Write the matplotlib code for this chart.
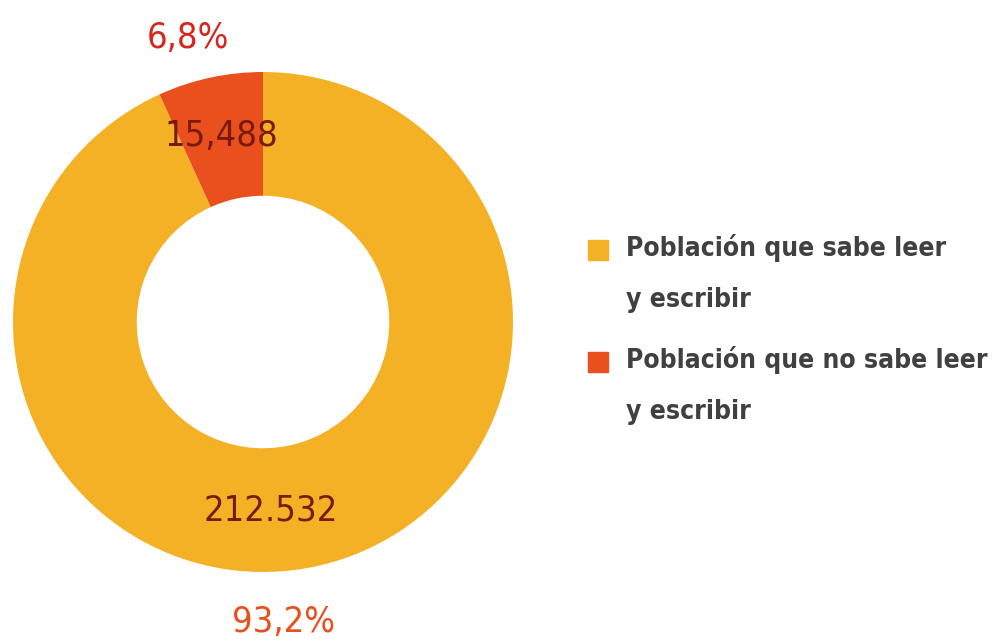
import matplotlib
matplotlib.use("Agg")
import matplotlib.pyplot as plt
from matplotlib.patches import Rectangle

# datos
categorias = ["Población que sabe leer\ny escribir", "Población que no sabe leer\ny escribir"]
valores = [212532, 15488]
etiquetas_valor = ["212.532", "15,488"]
etiquetas_pct = ["93,2%", "6,8%"]
colores = ["#f5b126", "#e9501e"]

W, H = 995, 643
fuente = ["DejaVu Sans"]

fig = plt.figure(figsize=(W / 100, H / 100), dpi=100)

def px(x, y):
    return x / W, 1 - y / H

# donut: centro (263, 322), radio 250 px
cx, cy, r = 263, 322, 250
ax = fig.add_axes([(cx - r) / W, (H - cy - r) / H, 2 * r / W, 2 * r / H])
ax.pie(valores, colors=colores, startangle=90, counterclock=False,
       radius=1, wedgeprops=dict(width=0.495, linewidth=0))
ax.set_xlim(-1, 1)
ax.set_ylim(-1, 1)
ax.set_aspect("equal")
ax.axis("off")

# etiquetas de valores
ax.text(0.03, -0.755, etiquetas_valor[0], ha="center", va="center",
        fontsize=26, color="#7a1a0e", family=fuente, stretch="condensed")
ax.text(-0.165, 0.745, etiquetas_valor[1], ha="center", va="center",
        fontsize=26, color="#7a1a0e", family=fuente, stretch="condensed")

# porcentajes fuera del anillo
x, y = px(283, 622)
fig.text(x, y, etiquetas_pct[0], ha="center", va="center",
         fontsize=26, color="#e9501e", family=fuente, stretch="condensed")
x, y = px(188, 38)
fig.text(x, y, etiquetas_pct[1], ha="center", va="center",
         fontsize=26, color="#d7261e", family=fuente, stretch="condensed")

# leyenda manual
for i, (cat, col) in enumerate(zip(categorias, colores)):
    y0 = 240 + i * 112
    fig.patches.append(Rectangle(px(588, y0 + 20), 20 / W, 20 / H,
                                 transform=fig.transFigure, color=col,
                                 figure=fig))
    x, y = px(626, y0 - 6)
    fig.text(x, y, cat, ha="left", va="top", fontsize=19,
             fontweight="bold", color="#404040", family=fuente,
             stretch="condensed", linespacing=2.25)

fig.savefig("out.png", dpi=100, facecolor="white")
